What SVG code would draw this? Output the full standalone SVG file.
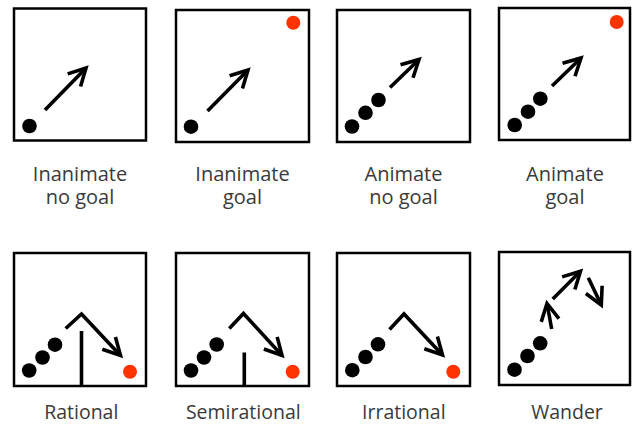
<svg xmlns="http://www.w3.org/2000/svg" width="632" height="425" viewBox="0 0 632 425">
<style>
.box{fill:#fff;stroke:#000;stroke-width:2.5}
.dot{fill:#000}
.goal{fill:#ff3300}
.mv{fill:none;stroke:#000;stroke-width:3.6;stroke-linejoin:miter}
.wall{fill:none;stroke:#000;stroke-width:3.6}
.head{fill:none;stroke:#000;stroke-width:3.6;stroke-linejoin:miter}
.lbl{font-family:"Open Sans","Noto Sans","DejaVu Sans",sans-serif;font-size:20px;fill:#3a3a3a;text-anchor:middle}
.lbl2{font-family:"Open Sans","Noto Sans","DejaVu Sans",sans-serif;font-size:19.5px;fill:#3a3a3a;text-anchor:middle}
</style>
<defs>
<marker id="ah" markerUnits="userSpaceOnUse" orient="auto" refX="0" refY="0" markerWidth="40" markerHeight="40" viewBox="-20 -20 40 40" overflow="visible">
<path class="head" d="M-17,-9 L0,0 L-17,9"/>
</marker>
</defs>
<rect width="632" height="425" fill="#fff"/>

<g id="inanimate-no-goal">
<rect class="box" x="14" y="8.5" width="132" height="132"/>
<circle class="dot" cx="29.5" cy="126" r="7.3"/>
<text class="lbl" x="80" y="180.5">Inanimate</text>
<text class="lbl" x="80" y="204">no goal</text>
</g>
<g id="inanimate-goal">
<rect class="box" x="176" y="10" width="133" height="132"/>
<circle class="dot" cx="191" cy="126.7" r="7.3"/>
<circle class="goal" cx="293.3" cy="22.7" r="7"/>
<text class="lbl" x="242.5" y="180.5">Inanimate</text>
<text class="lbl" x="242.5" y="204">goal</text>
</g>
<g id="animate-no-goal">
<rect class="box" x="337" y="10" width="133" height="132"/>
<circle class="dot" cx="352" cy="126.5" r="7.3"/>
<circle class="dot" cx="365.5" cy="112.8" r="7.3"/>
<circle class="dot" cx="378.5" cy="100" r="7.3"/>
<text class="lbl" x="403.5" y="180.5">Animate</text>
<text class="lbl" x="403.5" y="204">no goal</text>
</g>
<g id="animate-goal">
<rect class="box" x="499" y="8" width="131" height="132"/>
<circle class="dot" cx="514.7" cy="125" r="7.3"/>
<circle class="dot" cx="528" cy="111.7" r="7.3"/>
<circle class="dot" cx="540.3" cy="98.7" r="7.3"/>
<circle class="goal" cx="616.7" cy="22" r="7"/>
<text class="lbl" x="565" y="180.5">Animate</text>
<text class="lbl" x="565" y="204">goal</text>
</g>
<g id="rational">
<rect class="box" x="14" y="253" width="132" height="133"/>
<circle class="dot" cx="29.2" cy="370.5" r="7.3"/>
<circle class="dot" cx="42.5" cy="357.5" r="7.3"/>
<circle class="dot" cx="55" cy="344.7" r="7.3"/>
<circle class="goal" cx="130" cy="371.7" r="7"/>
<path class="wall" d="M81.5,331 V386"/>
<text class="lbl2" x="81.3" y="419">Rational</text>
</g>
<g id="semirational">
<rect class="box" x="176" y="253" width="133" height="133"/>
<circle class="dot" cx="191" cy="370.5" r="7.3"/>
<circle class="dot" cx="204" cy="357.5" r="7.3"/>
<circle class="dot" cx="216.7" cy="344.5" r="7.3"/>
<circle class="goal" cx="292.7" cy="371.7" r="7"/>
<path class="wall" d="M244.3,352.5 V386"/>
<text class="lbl2" x="243.3" y="419">Semirational</text>
</g>
<g id="irrational">
<rect class="box" x="337" y="253" width="133" height="133"/>
<circle class="dot" cx="352.3" cy="370.2" r="7.3"/>
<circle class="dot" cx="365.5" cy="357" r="7.3"/>
<circle class="dot" cx="378" cy="344.3" r="7.3"/>
<circle class="goal" cx="453.3" cy="371.7" r="7"/>
<text class="lbl2" x="403.8" y="419">Irrational</text>
</g>
<g id="wander">
<rect class="box" x="499" y="252" width="131" height="133"/>
<circle class="dot" cx="514.5" cy="369.7" r="7.3"/>
<circle class="dot" cx="527.5" cy="356" r="7.3"/>
<circle class="dot" cx="540.2" cy="343.3" r="7.3"/>
<text class="lbl2" x="567" y="419">Wander</text>
</g>

<g id="connectors">
<path class="mv" marker-end="url(#ah)" d="M45,110 L86,68"/>
<path class="mv" marker-end="url(#ah)" d="M207.5,111 L248,70"/>
<path class="mv" marker-end="url(#ah)" d="M390,87.5 L419,59.5"/>
<path class="mv" marker-end="url(#ah)" d="M552,86 L581,58"/>
<path class="mv" marker-end="url(#ah)" d="M65.7,328.5 L81.5,314 L120.5,355.5"/>
<path class="mv" marker-end="url(#ah)" d="M229.3,328.5 L243.5,313.5 L282,355.5"/>
<path class="mv" marker-end="url(#ah)" d="M389.5,329.5 L404,314 L442.5,355"/>
<path class="mv" marker-end="url(#ah)" d="M551.7,329 L547,303.5"/>
<path class="mv" marker-end="url(#ah)" d="M552.7,299 L580.5,271.2"/>
<path class="mv" marker-end="url(#ah)" d="M588.3,277.7 L601.3,305"/>
</g>
</svg>
